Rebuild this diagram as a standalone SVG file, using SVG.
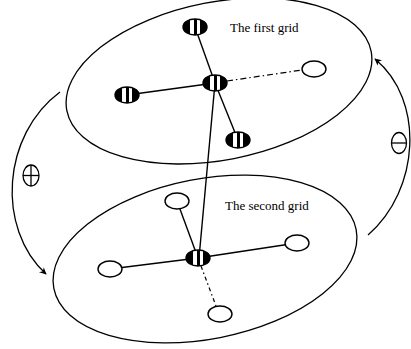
<svg xmlns="http://www.w3.org/2000/svg" width="411" height="349" viewBox="0 0 411 349">
<style>
.grid{fill:none;stroke:#000;stroke-width:1.3}
.edge{fill:none;stroke:#000;stroke-width:1.4}
.dd{fill:none;stroke:#000;stroke-width:1.2;stroke-dasharray:6 3 1.5 3}
.arc{fill:none;stroke:#000;stroke-width:1.3}
.open{fill:#fff;stroke:#000;stroke-width:1.4}
.striped{fill:url(#stripes);stroke:#000;stroke-width:1.4}
.sym{fill:none;stroke:#000;stroke-width:1.3}
.lbl{font-family:"Liberation Serif","Times New Roman",serif;font-size:13px;fill:#000}
</style>
<defs>
<linearGradient id="stripes" x1="0" y1="0" x2="1" y2="0">
<stop offset="0" stop-color="#000"/><stop offset="0.28" stop-color="#000"/>
<stop offset="0.28" stop-color="#fff"/><stop offset="0.44" stop-color="#fff"/>
<stop offset="0.44" stop-color="#000"/><stop offset="0.57" stop-color="#000"/>
<stop offset="0.57" stop-color="#fff"/><stop offset="0.72" stop-color="#fff"/>
<stop offset="0.72" stop-color="#000"/><stop offset="1" stop-color="#000"/>
</linearGradient>
<marker id="arrow" viewBox="0 0 10 10" refX="9" refY="5" markerWidth="9" markerHeight="7" markerUnits="userSpaceOnUse" orient="auto">
<path d="M0,0 L10,5 L0,10 L3,5 Z" fill="#000"/>
</marker>
</defs>

<g id="grid1">
<ellipse class="grid" cx="219" cy="81" rx="155" ry="79" transform="rotate(-11 219 81)"/>
<text class="lbl" x="230" y="32">The first grid</text>
</g>
<g id="grid2">
<ellipse class="grid" cx="205" cy="259" rx="154" ry="80" transform="rotate(-11 205 259)"/>
<text class="lbl" x="225" y="210">The second grid</text>
</g>

<g id="connectors">
<line class="edge" x1="215" y1="83" x2="195" y2="27"/>
<line class="edge" x1="215" y1="83" x2="127" y2="95"/>
<line class="edge" x1="215" y1="83" x2="238" y2="140"/>
<line class="dd" x1="227" y1="81" x2="302" y2="70"/>
<line class="edge" x1="215" y1="83" x2="199" y2="258"/>
<line class="edge" x1="198" y1="258" x2="177" y2="201"/>
<line class="edge" x1="198" y1="258" x2="297" y2="243"/>
<line class="edge" x1="198" y1="258" x2="110" y2="269"/>
<line class="dd" x1="201" y1="266" x2="216" y2="306" style="stroke-dasharray:4 3 1.5 3"/>
<path class="arc" d="M60,92 C2,135 -4,228 46,274" marker-end="url(#arrow)"/>
<path class="arc" d="M368,235 C420,190 425,100 375,59" marker-end="url(#arrow)"/>
</g>

<g id="n1-center"><ellipse class="striped" cx="215" cy="83" rx="12" ry="8"/></g>
<g id="n1-top"><ellipse class="striped" cx="195" cy="27" rx="12" ry="8"/></g>
<g id="n1-left"><ellipse class="striped" cx="127" cy="95" rx="12" ry="8"/></g>
<g id="n1-bottom"><ellipse class="striped" cx="238" cy="140" rx="12" ry="8"/></g>
<g id="n1-right"><ellipse class="open" cx="314" cy="69" rx="12" ry="8"/></g>

<g id="n2-center"><ellipse class="striped" cx="198" cy="258" rx="12" ry="8"/></g>
<g id="n2-top"><ellipse class="open" cx="177" cy="201" rx="12" ry="8"/></g>
<g id="n2-right"><ellipse class="open" cx="297" cy="243" rx="12" ry="8"/></g>
<g id="n2-left"><ellipse class="open" cx="110" cy="269" rx="12" ry="8"/></g>
<g id="n2-bottom"><ellipse class="open" cx="220" cy="314" rx="12" ry="8"/></g>

<g id="plus">
<ellipse class="sym" cx="31" cy="175.5" rx="8" ry="10.5"/>
<line class="sym" x1="23" y1="175.5" x2="39" y2="175.5"/>
<line class="sym" x1="31" y1="165" x2="31" y2="186"/>
</g>
<g id="minus">
<ellipse class="sym" cx="399" cy="143" rx="7.5" ry="10.5"/>
<line class="sym" x1="391.5" y1="143" x2="406.5" y2="143"/>
</g>
</svg>
